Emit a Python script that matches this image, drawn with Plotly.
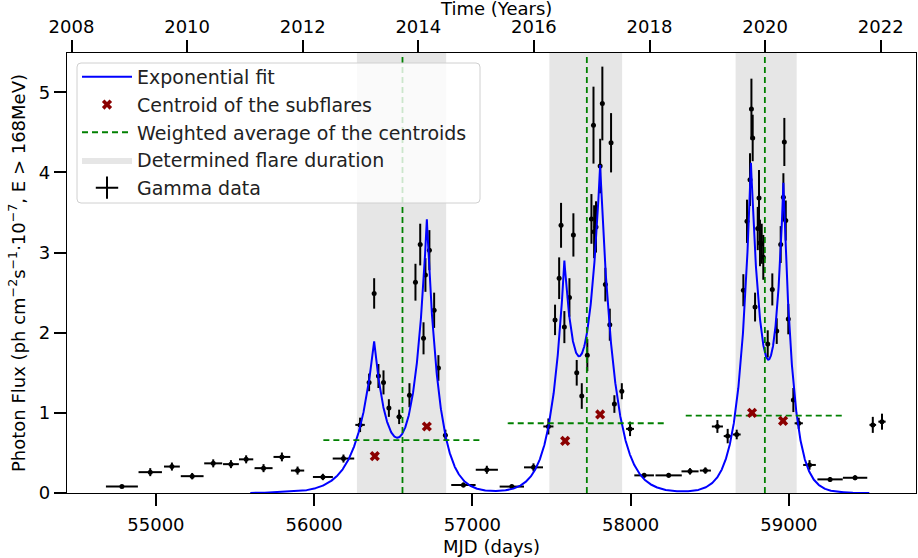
import numpy as np
import plotly.graph_objects as go

# ---------------- data ----------------
mjd = [54785, 54964, 55101, 55229, 55362, 55474, 55570, 55680, 55796, 55895, 56055, 56185,
       56290, 56347, 56379, 56406, 56438, 56472, 56537, 56602, 56640, 56670, 56691, 56703,
       56728, 56758, 56785, 56829,
       56943, 57091, 57249, 57386,
       57480, 57522, 57548, 57560, 57581, 57613, 57638, 57659, 57691, 57726, 57752, 57765,
       57769, 57781, 57807, 57821, 57840, 57868, 57876, 57897, 57944, 57996,
       58085, 58240, 58375, 58472,
       58548, 58613, 58670, 58712, 58735, 58754, 58763, 58771, 58786, 58803, 58811, 58817,
       58828, 58838, 58866, 58895, 58923, 58948, 58965, 58971, 58980, 58996, 59028, 59062,
       59130, 59260, 59418, 59530, 59588]
flux = [0.08, 0.26, 0.33, 0.21, 0.37, 0.36, 0.42, 0.31, 0.45, 0.28, 0.20, 0.43,
        0.85, 1.38, 2.49, 1.46, 1.38, 1.06, 0.95, 1.22, 2.63, 3.10, 1.93, 2.72,
        3.03, 2.28, 1.56, 0.72,
        0.10, 0.29, 0.08, 0.32,
        0.83, 2.16, 2.68, 3.34, 2.07, 2.44, 3.22, 1.50, 1.21, 1.72, 3.42, 4.59,
        3.26, 3.32, 4.08, 4.86, 2.60, 2.10, 4.37, 1.11, 1.27, 0.80,
        0.22, 0.22, 0.27, 0.28,
        0.83, 0.71, 0.73, 2.53, 3.39, 3.91, 4.79, 4.43, 2.32, 3.30, 3.68, 3.12,
        3.11, 2.94, 1.86, 2.54, 2.02, 3.10, 3.69, 4.38, 3.40, 2.17, 1.16, 0.87,
        0.35, 0.17, 0.19, 0.85, 0.89]
flux_err = [0.02, 0.05, 0.05, 0.04, 0.05, 0.05, 0.05, 0.05, 0.055, 0.05, 0.04, 0.05,
            0.09, 0.11, 0.19, 0.15, 0.15, 0.11, 0.09, 0.15, 0.23, 0.26, 0.20, 0.21,
            0.25, 0.22, 0.16, 0.07,
            0.03, 0.05, 0.02, 0.05,
            0.10, 0.19, 0.26, 0.28, 0.20, 0.24, 0.27, 0.16, 0.16, 0.20, 0.31, 0.48,
            0.33, 0.32, 0.34, 0.46, 0.21, 0.20, 0.37, 0.11, 0.10, 0.09,
            0.03, 0.03, 0.04, 0.04,
            0.08, 0.09, 0.06, 0.20, 0.27, 0.33, 0.38, 0.29, 0.18, 0.27, 0.35, 0.29,
            0.25, 0.28, 0.17, 0.20, 0.16, 0.23, 0.30, 0.30, 0.25, 0.19, 0.15, 0.07,
            0.06, 0.03, 0.03, 0.10, 0.10]
mjd_err = [101, 74, 50, 72, 57, 50, 45, 57, 53, 42, 63, 68,
           30, 10, 5, 6, 6, 10, 16, 8, 5, 5, 4, 4,
           5, 5, 6, 12,
           77, 70, 77, 60,
           32, 4, 4, 4, 4, 4, 4, 4, 6, 4, 3, 3,
           3, 3, 3, 3, 3, 3, 3, 5, 8, 25,
           62, 83, 54, 35,
           35, 25, 25, 3, 3, 3, 3, 3, 3, 3, 3, 3,
           3, 3, 3, 3, 3, 3, 3, 3, 3, 3, 5, 26,
           40, 80, 77, 21, 23]

# exponential fit: one rise/decay exponential per subflare
peak_mjd = [56379, 56712, 57581, 57807, 58760, 58965]
peak_amp = [1.84, 3.37, 2.58, 3.94, 4.00, 3.61]
rise_time = [108, 80, 79, 90, 70, 60]
decay_time = [90, 75, 80, 88, 75, 60]
fit_start, fit_end = 55596, 59508

# centroids of the subflares
centroid_mjd = [56383, 56712, 57586, 57807, 58767, 58963]
centroid_flux = [0.46, 0.83, 0.65, 0.98, 1.00, 0.90]

# weighted average of the centroids (vertical) and its level (horizontal, +-500 d)
wavg_mjd = [56558, 57723, 58848]
wavg_level = [0.66, 0.87, 0.965]
wavg_halfwidth = 500

# determined flare durations
dur_start = [56270, 57486, 58663]
dur_end = [56834, 57946, 59049]

year_ticks = list(range(2008, 2023, 2))
mjd_ticks = [55000, 56000, 57000, 58000, 59000]
flux_ticks = [0, 1, 2, 3, 4, 5]

x_range = [54438, 59803]
y_range = [0, 5.49]


def mjd_to_year(m):
    return 2000.0 + (np.asarray(m, dtype=float) - 51544.5) / 365.25


# ---------------- figure ----------------
FONT = "DejaVu Sans"
W, H = 918, 558
M = dict(l=67, r=2, t=53, b=65)
PW = W - M["l"] - M["r"]
PH = H - M["t"] - M["b"]


def px_x(p):
    return (p - M["l"]) / PW


def px_y(p):
    return 1 - (p - M["t"]) / PH


fig = go.Figure()

# flare durations (shaded)
sx, sy = [], []
for a, b in zip(dur_start, dur_end):
    sx += [a, b, b, a, a, None]
    sy += [y_range[0], y_range[0], y_range[1], y_range[1], y_range[0], None]
fig.add_trace(go.Scatter(
    x=sx, y=sy, mode="lines", fill="toself",
    fillcolor="rgba(128,128,128,0.2)", line=dict(width=0, color="rgba(128,128,128,0.2)"),
    name="Determined flare duration", legendrank=4, hoverinfo="skip"))

# gamma data with error bars
fig.add_trace(go.Scatter(
    x=mjd, y=flux, mode="markers",
    marker=dict(color="black", size=5),
    error_y=dict(type="data", array=flux_err, color="black", thickness=2, width=0),
    error_x=dict(type="data", array=mjd_err, color="black", thickness=2, width=0),
    showlegend=False, name="Gamma data"))
fig.add_trace(go.Scatter(
    x=[None], y=[None], mode="markers",
    marker=dict(symbol="cross-thin", size=20, color="black", line=dict(width=2, color="black")),
    name="Gamma data", legendrank=5))

# exponential fit
t = np.arange(fit_start, fit_end + 1, 1.0)
f = np.zeros_like(t)
for tp, A, tr, td in zip(peak_mjd, peak_amp, rise_time, decay_time):
    f += np.where(t < tp, A * np.exp((t - tp) / tr), A * np.exp(-(t - tp) / td))
fig.add_trace(go.Scatter(
    x=t, y=f, mode="lines", line=dict(color="blue", width=2),
    name="Exponential fit", legendrank=1, hoverinfo="skip"))

# weighted averages
vx, vy, hx, hy = [], [], [], []
for w, lv in zip(wavg_mjd, wavg_level):
    vx += [w, w, None]
    vy += [y_range[0], y_range[1], None]
    hx += [w - wavg_halfwidth, w + wavg_halfwidth, None]
    hy += [lv, lv, None]
fig.add_trace(go.Scatter(
    x=vx, y=vy, mode="lines", line=dict(color="green", width=1.8, dash="6px,4px"),
    name="Weighted average of the centroids", legendrank=3, legendgroup="wavg"))
fig.add_trace(go.Scatter(
    x=hx, y=hy, mode="lines", line=dict(color="green", width=1.8, dash="6px,4px"),
    showlegend=False, legendgroup="wavg"))

# centroids
fig.add_trace(go.Scatter(
    x=centroid_mjd, y=centroid_flux, mode="markers",
    marker=dict(symbol="x", size=9, color="darkred", line=dict(width=0)),
    name="Centroid of the subflares", legendrank=2))

# dummy trace for the top (years) axis
fig.add_trace(go.Scatter(
    x=list(mjd_to_year(x_range)), y=[None, None], xaxis="x2", mode="lines",
    showlegend=False, hoverinfo="skip"))

axis_common = dict(
    showline=True, linecolor="black", linewidth=1.3,
    ticks="outside", ticklen=12, tickwidth=1.6, tickcolor="black",
    showgrid=False, zeroline=False, automargin=False,
    tickfont=dict(family=FONT, size=18, color="black"),
)

# legend frame (rounded, semi-transparent like matplotlib's)
x0, x1 = px_x(77), px_x(480)
y0, y1 = px_y(203), px_y(63)
rx, ry = 4 / PW, 4 / PH
legend_path = (f"M {x0+rx},{y0} L {x1-rx},{y0} Q {x1},{y0} {x1},{y0+ry} "
               f"L {x1},{y1-ry} Q {x1},{y1} {x1-rx},{y1} L {x0+rx},{y1} "
               f"Q {x0},{y1} {x0},{y1-ry} L {x0},{y0+ry} Q {x0},{y0} {x0+rx},{y0} Z")

fig.update_layout(
    width=W, height=H,
    margin=M,
    paper_bgcolor="white", plot_bgcolor="white",
    font=dict(family=FONT, size=18, color="black"),
    xaxis=dict(range=x_range, tickvals=mjd_ticks, tickformat="d", ticklabelstandoff=3,
               **axis_common,
               title=dict(text="MJD (days)", font=dict(family=FONT, size=18), standoff=6)),
    xaxis2=dict(range=list(mjd_to_year(x_range)), tickvals=year_ticks, tickformat="d",
                ticklabelstandoff=0, overlaying="x", side="top", **axis_common),
    yaxis=dict(range=y_range, tickvals=flux_ticks, mirror=True, **axis_common,
               title=dict(text="Photon Flux (ph cm<sup>−2</sup>s<sup>−1</sup>·10<sup>−7</sup>, E > 168MeV)",
                          font=dict(family=FONT, size=18), standoff=8)),
    shapes=[dict(type="path", path=legend_path, xref="paper", yref="paper", layer="above",
                 fillcolor="rgba(255,255,255,0.8)", line=dict(color="#d0d0d0", width=1))],
    legend=dict(x=px_x(77), y=px_y(58), xanchor="left", yanchor="top",
                bgcolor="rgba(0,0,0,0)", borderwidth=0,
                font=dict(family=FONT, size=19, color="#222"), tracegroupgap=0,
                traceorder="normal", itemwidth=50),
    annotations=[dict(text="Time (Years)", xref="paper", yref="paper",
                      x=px_x(496), y=px_y(9), xanchor="center", yanchor="middle",
                      showarrow=False, font=dict(family=FONT, size=18, color="black"))],
    showlegend=True,
)

fig.write_html("out.html", config={"displayModeBar": False},
               post_script="document.body.style.margin='0';")
